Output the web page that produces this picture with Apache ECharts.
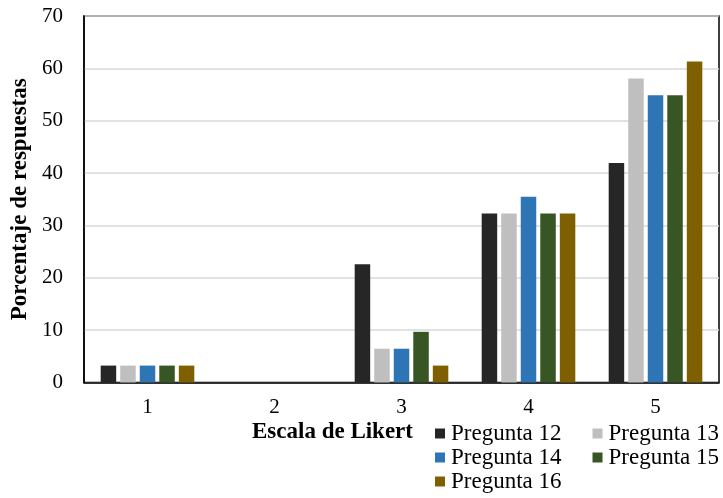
<!DOCTYPE html>
<html>
<head>
<meta charset="utf-8">
<script src="https://cdn.jsdelivr.net/npm/echarts@6/dist/echarts.min.js"></script>
<style>
  html, body { margin: 0; padding: 0; background: #fff; }
  #chart { width: 723px; height: 498px; }
</style>
</head>
<body>
<div id="chart"></div>
<script>
// Likert scale categories
const categories = ['1', '2', '3', '4', '5'];

// Percentage of responses per question
const pregunta12 = [3.23, 0, 22.58, 32.26, 41.94];
const pregunta13 = [3.23, 0, 6.45, 32.26, 58.06];
const pregunta14 = [3.23, 0, 6.45, 35.48, 54.84];
const pregunta15 = [3.23, 0, 9.68, 32.26, 54.84];
const pregunta16 = [3.23, 0, 3.23, 32.26, 61.29];

const seriesNames = ['Pregunta 12', 'Pregunta 13', 'Pregunta 14', 'Pregunta 15', 'Pregunta 16'];
const seriesData = [pregunta12, pregunta13, pregunta14, pregunta15, pregunta16];
const colors = ['#262626', '#bfbfbf', '#2e75b6', '#375623', '#7f6000'];

const font = '"Liberation Serif", "Times New Roman", serif';

const legendBase = {
  padding: 0,
  itemWidth: 10,
  itemHeight: 10,
  itemGap: 31,
  icon: 'rect',
  textStyle: { fontFamily: font, fontSize: 23, color: '#000', padding: [0, 0, 0, 1] }
};

const chart = echarts.init(document.getElementById('chart'));
chart.setOption({
  animation: false,
  color: colors,
  grid: {
    left: 84, right: 4, top: 16, bottom: 115.5,
    show: true, borderColor: '#000', borderWidth: 1.5
  },
  legend: [
    Object.assign({ left: 435, top: 422, data: ['Pregunta 12', 'Pregunta 13'] }, legendBase),
    Object.assign({ left: 435, top: 446, data: ['Pregunta 14', 'Pregunta 15'] }, legendBase),
    Object.assign({ left: 435, top: 470, data: ['Pregunta 16'] }, legendBase)
  ],
  graphic: [{
    type: 'text',
    left: 252, top: 421,
    style: { text: 'Escala de Likert', font: 'bold 23px ' + font, fill: '#000' }
  }],
  xAxis: {
    type: 'category',
    data: categories,
    axisLine: { lineStyle: { color: '#000', width: 1.5 } },
    axisTick: { show: false },
    axisLabel: { fontFamily: font, fontSize: 21, color: '#000', margin: 14 }
  },
  yAxis: {
    type: 'value',
    min: 0, max: 70, interval: 10,
    name: 'Porcentaje de respuestas',
    nameLocation: 'middle',
    nameGap: 50,
    nameTextStyle: { fontFamily: font, fontSize: 23, fontWeight: 'bold', color: '#000' },
    axisLine: { show: true, lineStyle: { color: '#000', width: 1.5 } },
    axisTick: { show: false },
    axisLabel: { fontFamily: font, fontSize: 21, color: '#000', margin: 21 },
    splitLine: { lineStyle: { color: '#d9d9d9', width: 1.5 } }
  },
  series: seriesNames.map((name, i) => ({
    name: name,
    type: 'bar',
    data: seriesData[i],
    barWidth: 15.5,
    barGap: '26%'
  }))
});
</script>
</body>
</html>
